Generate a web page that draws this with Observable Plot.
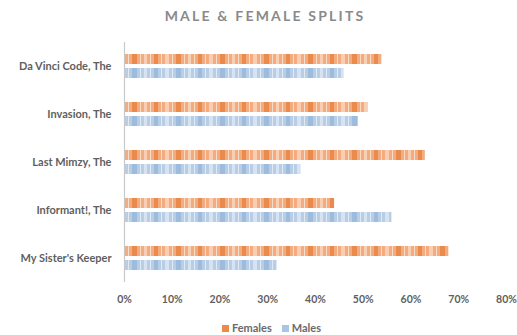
<!DOCTYPE html>
<html>
<head>
<meta charset="utf-8">
<script src="https://cdn.jsdelivr.net/npm/d3@7"></script>
<script src="https://cdn.jsdelivr.net/npm/@observablehq/plot@0.6"></script>
<style>
  html, body { margin: 0; padding: 0; background: #fff; }
  body { width: 517px; height: 335px; overflow: hidden; font-family: Lato, "Open Sans", sans-serif; }
  #title { height: 32px; line-height: 32px; text-align: center; padding-left: 13px; box-sizing: border-box;
           font-size: 14px; font-weight: 700; letter-spacing: 2.2px; color: #8a8a8a; }
  #legend { text-align: center; padding-left: 26px; font-size: 11px; font-weight: 700; color: #6a6a6a; margin-top: 11px; }
  #legend span.sw { display: inline-block; width: 7px; height: 7px; margin-right: 3px; vertical-align: 0px; }
  #legend span.item { margin: 0 5px; }
</style>
</head>
<body>
<div id="title">MALE &amp; FEMALE SPLITS</div>
<div id="chart"></div>
<div id="legend"></div>
<script>
const movies = ["Da Vinci Code, The", "Invasion, The", "Last Mimzy, The", "Informant!, The", "My Sister's Keeper"];
const series = ["Females", "Males"];
const females = [0.54, 0.51, 0.63, 0.44, 0.68];
const males = [0.46, 0.49, 0.37, 0.56, 0.32];
const xTicks = [0, 0.1, 0.2, 0.3, 0.4, 0.5, 0.6, 0.7, 0.8];

const data = [];
movies.forEach((m, i) => {
  data.push({movie: m, sex: "Females", value: females[i]});
  data.push({movie: m, sex: "Males", value: males[i]});
});

const chart = Plot.plot({
  width: 517,
  height: 278,
  marginLeft: 124,
  marginRight: 11,
  marginTop: 8,
  marginBottom: 27,
  style: {fontFamily: "Lato, 'Open Sans', sans-serif", fontSize: "11px", color: "#5f5f5f", background: "#fff"},
  x: {domain: [0, 0.8], ticks: xTicks, tickFormat: d3.format(".0%"), label: null, tickSize: 0, tickPadding: 13},
  fy: {domain: movies, padding: 0, label: null, tickSize: 0, tickPadding: 13, axis: "left"},
  y: {domain: series, paddingInner: 0.31, paddingOuter: 0.834, axis: null},
  color: {domain: series, range: ["url(#patF)", "url(#patM)"]},
  marks: [
    Plot.barX(data, {x: "value", y: "sex", fy: "movie", fill: "sex"}),
    Plot.ruleX([0], {stroke: "#c8c8c8", strokeWidth: 1.2})
  ]
});

// textured fills resembling the original's stripy pattern
const ns = "http://www.w3.org/2000/svg";
const defs = document.createElementNS(ns, "defs");
function makePattern(id, base, dark, light, thin) {
  const p = document.createElementNS(ns, "pattern");
  p.setAttribute("id", id);
  p.setAttribute("patternUnits", "userSpaceOnUse");
  p.setAttribute("width", 44);
  p.setAttribute("height", 400);
  const stripes = [
    [0, 44, base], [0, 5, dark], [22, 4, dark], [12, 3, light], [33, 4, light],
    [8, 1, thin], [18, 1, thin], [29, 1, thin], [40, 1, thin]
  ];
  for (const [sx, w, c] of stripes) {
    const r = document.createElementNS(ns, "rect");
    r.setAttribute("x", sx); r.setAttribute("y", 0);
    r.setAttribute("width", w); r.setAttribute("height", 400);
    r.setAttribute("fill", c);
    p.appendChild(r);
  }
  defs.appendChild(p);
}
makePattern("patF", "#F2AC80", "#EA8A4C", "#F8CFB3", "#FADCC6");
makePattern("patM", "#B8CEE7", "#9DBBDD", "#D6E4F2", "#E0EAF5");
chart.insertBefore(defs, chart.firstChild);
chart.querySelectorAll("text").forEach(t => t.setAttribute("font-weight", "700"));
chart.querySelectorAll("g[aria-label='x-axis tick label'] text, g[aria-label='x-axis tick label']").forEach(t => t.setAttribute("font-size", "10.5"));

document.getElementById("chart").appendChild(chart);

const colors = {Females: "#EC8A4C", Males: "#A9C5E4"};
const legend = document.getElementById("legend");
series.forEach(s => {
  const item = document.createElement("span");
  item.className = "item";
  const sw = document.createElement("span");
  sw.className = "sw";
  sw.style.background = colors[s];
  item.appendChild(sw);
  item.appendChild(document.createTextNode(s));
  legend.appendChild(item);
});
</script>
</body>
</html>
